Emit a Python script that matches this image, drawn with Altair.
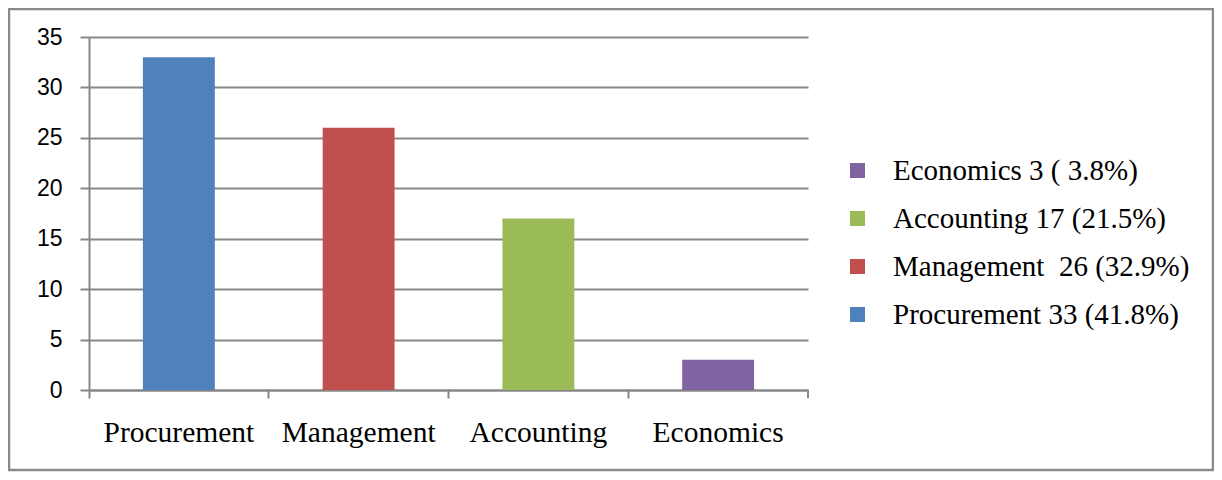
import altair as alt
import pandas as pd

categories = ["Procurement", "Management", "Accounting", "Economics"]
counts = [33, 26, 17, 3]
legend_labels = [
    "Procurement 33 (41.8%)",
    "Management\u00a0 26 (32.9%)",
    "Accounting 17 (21.5%)",
    "Economics 3 ( 3.8%)",
]
colors = ["#4F81BD", "#C0504D", "#9BBB59", "#8064A2"]
y_ticks = [0, 5, 10, 15, 20, 25, 30, 35]

df = pd.DataFrame({"category": categories, "count": counts, "legend": legend_labels})

W, H = 719, 353
GRAY = "#878787"

bars = alt.Chart(df).mark_bar(width=alt.RelativeBandSize(0.4)).encode(
    x=alt.X(
        "category:N",
        sort=categories,
        scale=alt.Scale(paddingInner=0, paddingOuter=0),
        axis=alt.Axis(
            title=None,
            labelAngle=0,
            labelFont="Liberation Serif",
            labelFontSize=29.5,
            labelColor="black",
            labelPadding=20,
            tickSize=8,
            tickColor=GRAY,
            tickWidth=2,
            domainColor=GRAY,
            domainWidth=2,
            bandPosition=0,
            grid=False,
        ),
    ),
    y=alt.Y(
        "count:Q",
        scale=alt.Scale(domain=[0, 35], nice=False),
        axis=alt.Axis(
            title=None,
            values=y_ticks,
            labelFont="Liberation Sans",
            labelFontSize=23,
            labelColor="black",
            labelPadding=18,
            tickSize=9,
            tickColor=GRAY,
            tickWidth=2,
            domainColor=GRAY,
            domainWidth=2,
            grid=True,
            gridColor=GRAY,
            gridWidth=2,
        ),
    ),
    color=alt.Color(
        "legend:N",
        scale=alt.Scale(domain=legend_labels[::-1], range=colors[::-1]),
        sort=legend_labels[::-1],
        legend=alt.Legend(
            title=None,
            orient="none",
            legendX=754,
            legendY=119,
            symbolType="square",
            symbolSize=225,
            symbolStrokeWidth=0,
            labelFont="Liberation Serif",
            labelFontSize=29,
            labelColor="black",
            labelOffset=21,
            rowPadding=18,
            labelLimit=400,
        ),
    ),
)

end_tick = alt.Chart(pd.DataFrame({"k": [0]})).mark_rule(color=GRAY, strokeWidth=2).encode(
    x=alt.value(W), y=alt.value(H), y2=alt.value(H + 8)
)

frame = alt.Chart(pd.DataFrame({"k": [0]})).mark_rect(
    fill=None, stroke="#8a8a8a", strokeWidth=2.5
).encode(
    x=alt.value(-80), x2=alt.value(1124), y=alt.value(-28), y2=alt.value(433)
)

chart = (
    alt.layer(bars, end_tick, frame)
    .properties(
        width=W,
        height=H,
        autosize=alt.AutoSizeParams(type="none"),
        padding={"left": 81, "top": 29, "right": 406, "bottom": 82},
        background="white",
    )
    .configure_view(strokeWidth=0)
)

chart.save("out.html", embed_options={"renderer": "svg", "actions": False})
